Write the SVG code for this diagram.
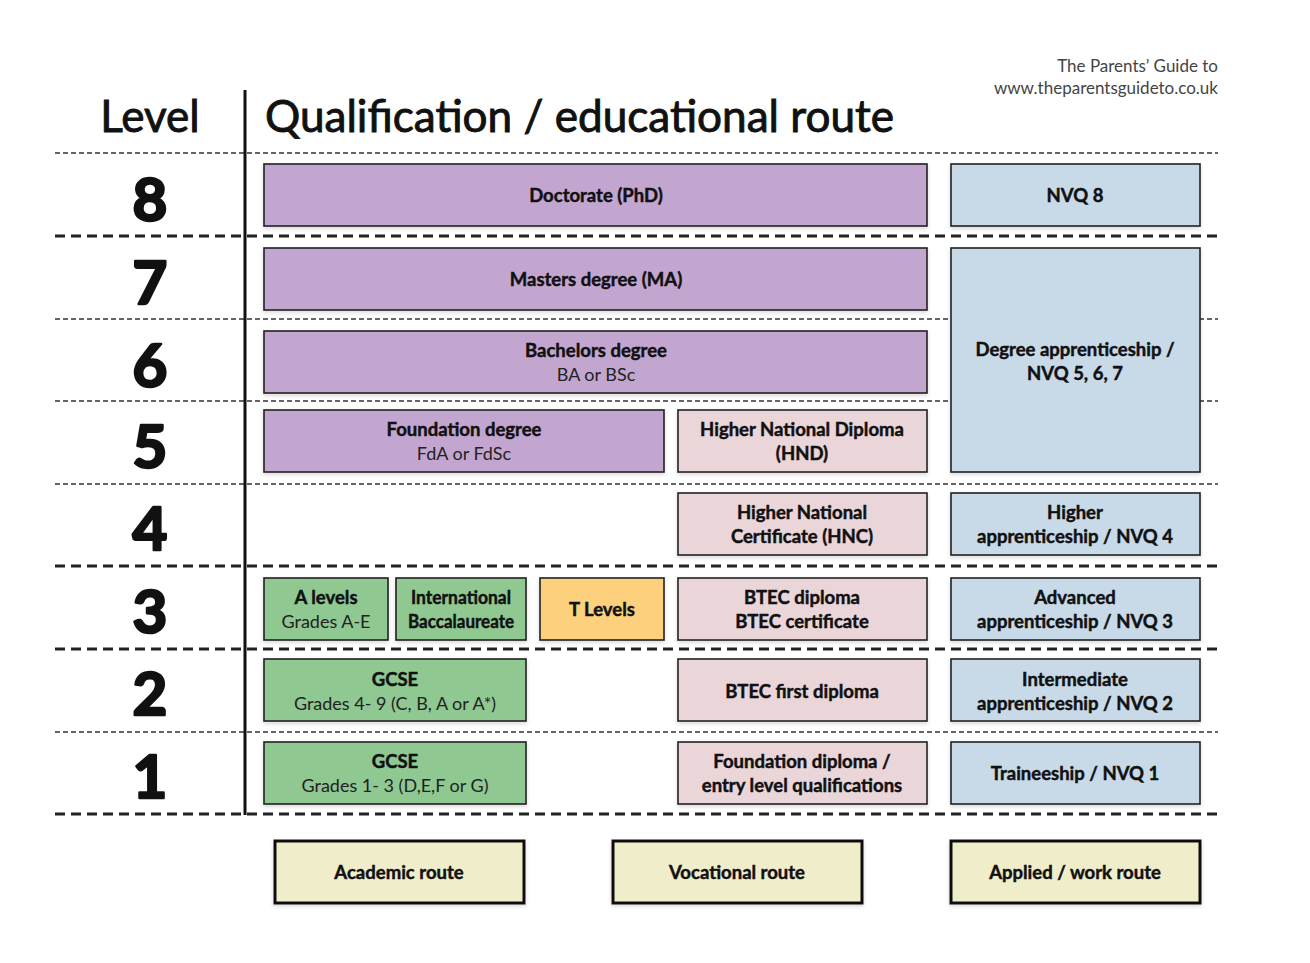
<svg xmlns="http://www.w3.org/2000/svg" width="1310" height="963" viewBox="0 0 1310 963">
<defs>
<filter id="sh" x="-5%" y="-10%" width="110%" height="130%"><feDropShadow dx="0" dy="2" stdDeviation="2" flood-color="#000" flood-opacity="0.15"/></filter>
<style>
text{font-family:"Source Sans Pro",Lato,"Noto Sans","Liberation Sans",sans-serif;fill:#111;}
.b{font-weight:bold;font-size:18.5px;text-anchor:middle;stroke:#111;stroke-width:0.45;}
.r{font-size:18px;text-anchor:middle;fill:#222;}
.box{stroke:#222;stroke-width:1.6;filter:url(#sh);}
.pu{fill:#C3A6D0;}.bl{fill:#C8DAE8;}.pk{fill:#EAD5D9;}.gr{fill:#8FC891;}.or{fill:#FCD07D;}.cr{fill:#F0EDCB;stroke:#111;stroke-width:3;filter:url(#sh);}
.thin{stroke:#333;stroke-width:1.4;stroke-dasharray:5 3;fill:none;}
.thick{stroke:#222;stroke-width:3;stroke-dasharray:10 6;fill:none;}
.lvl{font-weight:bold;font-size:60px;text-anchor:middle;stroke:#111;stroke-width:2.6;stroke-linejoin:round;}
.hd{font-size:44px;stroke:#111;stroke-width:0.9;}
</style>
</defs>
<rect width="1310" height="963" fill="#fff"/>
<g id="grid">
<line class="thin" x1="55" y1="153" x2="1218" y2="153"/>
<line class="thick" x1="55" y1="236" x2="1218" y2="236"/>
<line class="thin" x1="55" y1="319" x2="1218" y2="319"/>
<line class="thin" x1="55" y1="401" x2="1218" y2="401"/>
<line class="thin" x1="55" y1="484" x2="1218" y2="484"/>
<line class="thick" x1="55" y1="566" x2="1218" y2="566"/>
<line class="thick" x1="55" y1="649" x2="1218" y2="649"/>
<line class="thin" x1="55" y1="732" x2="1218" y2="732"/>
<line class="thick" x1="55" y1="814" x2="1218" y2="814"/>
<line x1="245" y1="90" x2="245" y2="815" stroke="#111" stroke-width="3"/>
</g>
<g id="headers">
<text class="hd" x="150" y="132" text-anchor="middle">Level</text>
<text class="hd" x="265" y="132" textLength="629" lengthAdjust="spacingAndGlyphs">Qualification / educational route</text>
<text x="1218" y="72" font-size="17" text-anchor="end" style="fill:#444">The Parents’ Guide to</text>
<text x="1218" y="94" font-size="17" text-anchor="end" style="fill:#444">www.theparentsguideto.co.uk</text>
</g>
<g id="levels">
<text class="lvl" x="150" y="221">8</text>
<text class="lvl" x="150" y="304">7</text>
<text class="lvl" x="150" y="387">6</text>
<text class="lvl" x="150" y="468">5</text>
<text class="lvl" x="150" y="550">4</text>
<text class="lvl" x="150" y="633">3</text>
<text class="lvl" x="150" y="715">2</text>
<text class="lvl" x="150" y="798">1</text>
</g>
<g id="doctorate"><rect class="box pu" x="264" y="164" width="663" height="62"/><text class="b" x="596" y="202">Doctorate (PhD)</text></g>
<g id="nvq8"><rect class="box bl" x="951" y="164" width="249" height="62"/><text class="b" x="1075" y="202">NVQ 8</text></g>
<g id="masters"><rect class="box pu" x="264" y="248" width="663" height="62"/><text class="b" x="596" y="286">Masters degree (MA)</text></g>
<g id="degree-apprenticeship"><rect class="box bl" x="951" y="248" width="249" height="224"/><text class="b" x="1075" y="356">Degree apprenticeship /</text><text class="b" x="1075" y="380">NVQ 5, 6, 7</text></g>
<g id="bachelors"><rect class="box pu" x="264" y="331" width="663" height="62"/><text class="b" x="596" y="357">Bachelors degree</text><text class="r" x="596" y="381">BA or BSc</text></g>
<g id="foundation-degree"><rect class="box pu" x="264" y="410" width="400" height="62"/><text class="b" x="464" y="436">Foundation degree</text><text class="r" x="464" y="460">FdA or FdSc</text></g>
<g id="hnd"><rect class="box pk" x="678" y="410" width="249" height="62"/><text class="b" x="802" y="436">Higher National Diploma</text><text class="b" x="802" y="460">(HND)</text></g>
<g id="hnc"><rect class="box pk" x="678" y="493" width="249" height="62"/><text class="b" x="802" y="519">Higher National</text><text class="b" x="802" y="543">Certificate (HNC)</text></g>
<g id="higher-apprenticeship"><rect class="box bl" x="951" y="493" width="249" height="62"/><text class="b" x="1075" y="519">Higher</text><text class="b" x="1075" y="543">apprenticeship / NVQ 4</text></g>
<g id="a-levels"><rect class="box gr" x="264" y="578" width="124" height="62"/><text class="b" x="326" y="604">A levels</text><text class="r" x="326" y="628">Grades A-E</text></g>
<g id="ib"><rect class="box gr" x="396" y="578" width="130" height="62"/><text class="b" x="461" y="604" textLength="100" lengthAdjust="spacingAndGlyphs">International</text><text class="b" x="461" y="628" textLength="106" lengthAdjust="spacingAndGlyphs">Baccalaureate</text></g>
<g id="t-levels"><rect class="box or" x="540" y="578" width="124" height="62"/><text class="b" x="602" y="616">T Levels</text></g>
<g id="btec-diploma"><rect class="box pk" x="678" y="578" width="249" height="62"/><text class="b" x="802" y="604">BTEC diploma</text><text class="b" x="802" y="628">BTEC certificate</text></g>
<g id="advanced-apprenticeship"><rect class="box bl" x="951" y="578" width="249" height="62"/><text class="b" x="1075" y="604">Advanced</text><text class="b" x="1075" y="628">apprenticeship / NVQ 3</text></g>
<g id="gcse-4-9"><rect class="box gr" x="264" y="659" width="262" height="62"/><text class="b" x="395" y="686">GCSE</text><text class="r" x="395" y="710">Grades 4- 9 (C, B, A or A*)</text></g>
<g id="btec-first"><rect class="box pk" x="678" y="659" width="249" height="62"/><text class="b" x="802" y="698">BTEC first diploma</text></g>
<g id="intermediate-apprenticeship"><rect class="box bl" x="951" y="659" width="249" height="62"/><text class="b" x="1075" y="686">Intermediate</text><text class="b" x="1075" y="710">apprenticeship / NVQ 2</text></g>
<g id="gcse-1-3"><rect class="box gr" x="264" y="742" width="262" height="62"/><text class="b" x="395" y="768">GCSE</text><text class="r" x="395" y="792">Grades 1- 3 (D,E,F or G)</text></g>
<g id="foundation-diploma"><rect class="box pk" x="678" y="742" width="249" height="62"/><text class="b" x="802" y="768">Foundation diploma /</text><text class="b" x="802" y="792">entry level qualifications</text></g>
<g id="traineeship"><rect class="box bl" x="951" y="742" width="249" height="62"/><text class="b" x="1075" y="780">Traineeship / NVQ 1</text></g>
<g id="academic-route"><rect class="cr" x="275" y="841" width="249" height="62"/><text class="b" x="399" y="879">Academic route</text></g>
<g id="vocational-route"><rect class="cr" x="613" y="841" width="249" height="62"/><text class="b" x="737" y="879">Vocational route</text></g>
<g id="applied-route"><rect class="cr" x="951" y="841" width="249" height="62"/><text class="b" x="1075" y="879">Applied / work route</text></g>
<g id="connectors"></g>
</svg>
